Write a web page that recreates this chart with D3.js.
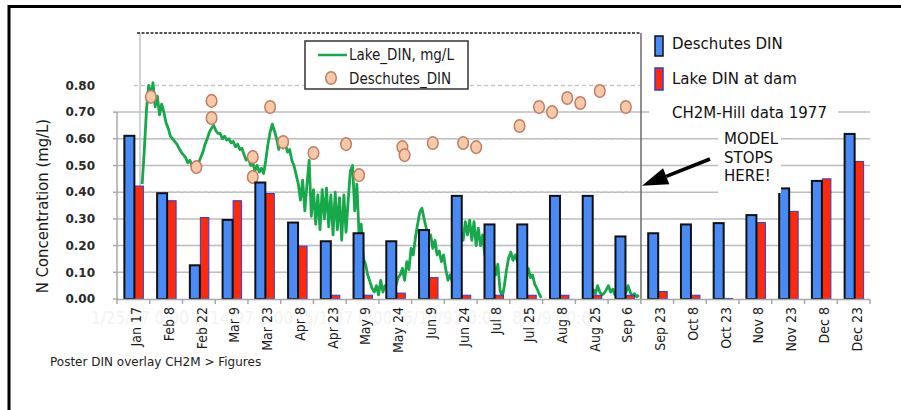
<!DOCTYPE html>
<html><head><meta charset="utf-8">
<script src="https://cdn.jsdelivr.net/npm/d3@7"></script>
<style>html,body{margin:0;padding:0;background:#fff;} svg{display:block}</style>
</head><body><svg id="c" width="901" height="410"></svg>
<script>
// ---------------- DATA ----------------
const categories = ["Jan 17","Feb 8","Feb 22","Mar 9","Mar 23","Apr 8","Apr 23","May 9","May 24","Jun 9","Jun 24","Jul 8","Jul 25","Aug 8","Aug 25","Sep 6","Sep 23","Oct 8","Oct 23","Nov 8","Nov 23","Dec 8","Dec 23"];
const deschutesDIN = [0.615,0.40,0.13,0.30,0.44,0.29,0.22,0.25,0.22,0.262,0.39,0.283,0.283,0.39,0.39,0.238,0.25,0.283,0.288,0.318,0.418,0.446,0.622];
const lakeDINatDam = [0.425,0.37,0.307,0.37,0.397,0.20,0.016,0.016,0.024,0.082,0.016,0.016,0.016,0.016,0.016,0.016,0.03,0.016,0.004,0.288,0.33,0.452,0.517];
const yTicks = [0,0.1,0.2,0.3,0.4,0.5,0.6,0.7,0.8];
const overlayGrid = [0.2,0.4,0.6,0.8];

const overlayDomain = ["1997-01-25","1997-09-13"];
const overlayDateTicks = ["1997-01-25","1997-03-14","1997-05-01","1997-06-18","1997-08-05"];

const circleDates = ["1997-01-30","1997-02-20","1997-02-27","1997-02-27","1997-03-18","1997-03-18","1997-03-26","1997-04-01","1997-04-15","1997-04-30","1997-05-06","1997-05-26","1997-05-27","1997-06-09","1997-06-23","1997-06-29","1997-07-19","1997-07-28","1997-08-03","1997-08-10","1997-08-16","1997-08-25","1997-09-06"];
const circleValues = [0.757,0.494,0.742,0.678,0.532,0.457,0.719,0.588,0.547,0.580,0.464,0.569,0.539,0.584,0.584,0.569,0.648,0.719,0.700,0.753,0.734,0.779,0.719];

const lakeLineStart = "1997-01-26";
const lakeLineValues = [
 0.43,0.56,0.71,0.80,0.76,0.81,0.72,0.76,0.69,0.73,
 0.70,0.66,0.64,0.61,0.60,0.59,0.58,0.565,0.55,0.54,
 0.53,0.51,0.52,0.50,0.50,0.495,0.51,0.53,0.55,0.58,
 0.60,0.625,0.64,0.65,0.63,0.62,0.62,0.60,0.61,0.595,
 0.60,0.585,0.59,0.57,0.58,0.56,0.565,0.54,0.52,0.53,
 0.50,0.51,0.48,0.50,0.475,0.49,0.47,0.52,0.58,0.625,
 0.655,0.63,0.60,0.56,0.60,0.565,0.58,0.55,0.56,0.52,
 0.50,0.465,0.43,0.37,0.445,0.33,0.43,0.52,0.31,0.41,
 0.28,0.39,0.26,0.41,0.30,0.415,0.27,0.39,0.24,0.40,
 0.26,0.38,0.22,0.39,0.25,0.37,0.48,0.50,0.33,0.43,
 0.24,0.28,0.15,0.13,0.09,0.065,0.04,0.026,0.05,0.015,
 0.07,0.026,0.05,0.035,0.065,0.04,0.07,0.05,0.08,0.09,
 0.115,0.07,0.14,0.11,0.19,0.165,0.23,0.28,0.325,0.34,
 0.30,0.265,0.22,0.24,0.19,0.22,0.165,0.18,0.14,0.165,
 0.11,0.07,0.09,0.065,0.11,0.165,0.22,0.25,0.22,0.29,
 0.24,0.295,0.22,0.29,0.20,0.265,0.20,0.24,0.165,0.14,
 0.155,0.115,0.14,0.09,0.13,0.035,0.005,0.05,0.11,0.155,
 0.175,0.145,0.165,0.14,0.155,0.115,0.14,0.10,0.115,0.08,
 0.09,0.055,0.04,0.02,0.004,
 null,null,null,null,null,null,null,null,null,null,null,null,null,null,null,null,null,null,null,null,null,null,
 0.01,0.035,0.02,0.05,0.026,0.015,0.022,0.035,0.05,0.026,
 0.037,0.015,0.03,0.015,0.026,0.04,0.022,0.05,0.026,0.01,
 0.02,0.008,0.015
];

// ---------------- SETUP ----------------
const svg = d3.select("#c");
const NARROW = "'Liberation Sans Narrow','Arial Narrow','DejaVu Sans Condensed',sans-serif";
const VERD = "'DejaVu Sans',Verdana,sans-serif";
const parse = d3.timeParse("%Y-%m-%d");

const x = d3.scaleBand().domain(categories).range([117, 870]).padding(0);
const y = d3.scaleLinear().domain([0, 0.8]).range([299, 85.4]);
const xo = d3.scaleTime().domain(overlayDomain.map(parse)).range([140, 641]);
const bw = x.bandwidth();

// outer frame (top and left)
svg.append("line").attr("x1",9).attr("x2",901).attr("y1",6.5).attr("y2",6.5).attr("stroke","#000").attr("stroke-width",3);
svg.append("line").attr("x1",9).attr("x2",9).attr("y1",5).attr("y2",410).attr("stroke","#000").attr("stroke-width",3);

// faint ghost date labels from overlay
const fmt = d3.timeFormat("%-m/%-d/%y %-H:%M");
svg.append("g").selectAll("text").data(overlayDateTicks).join("text")
  .attr("x", d => xo(parse(d))).attr("y", 318).attr("dy","0.35em")
  .attr("text-anchor","middle").attr("font-family",NARROW).attr("font-size",17)
  .attr("fill","#f3f3f3").text(d => fmt(parse(d)));

// bar chart gridlines
svg.append("g").selectAll("line").data(yTicks.filter(v => v > 0 && v < 0.75)).join("line")
  .attr("x1",117).attr("x2",870).attr("y1",d=>y(d)).attr("y2",d=>y(d))
  .attr("stroke","#bcbcbc").attr("stroke-width",1.5);

// overlay dashed gridlines
svg.append("g").selectAll("line").data(overlayGrid).join("line")
  .attr("x1",134).attr("x2",641).attr("y1",d=>y(d)).attr("y2",d=>y(d))
  .attr("stroke","#c6c6c6").attr("stroke-width",1.5).attr("stroke-dasharray","4,3");

// overlay frame
svg.append("line").attr("x1",140).attr("x2",140).attr("y1",33).attr("y2",299).attr("stroke","#c4c4c4").attr("stroke-width",1.5);
svg.append("line").attr("x1",137).attr("x2",641).attr("y1",33).attr("y2",33).attr("stroke","#555").attr("stroke-width",2).attr("stroke-dasharray","3,1.5");
svg.append("line").attr("x1",641).attr("x2",641).attr("y1",33).attr("y2",300).attr("stroke","#6a6a6a").attr("stroke-width",1.5);

// green lake line
const start = parse(lakeLineStart);
const linePts = lakeLineValues.map((v,i) => ({d: d3.timeDay.offset(start, i), v}));
const line = d3.line().defined(p => p.v !== null).x(p => xo(p.d)).y(p => y(p.v));
svg.append("path").datum(linePts).attr("d", line).attr("fill","none")
  .attr("stroke","#17a84b").attr("stroke-width",2.8).attr("stroke-linejoin","round");

// circles
svg.append("g").selectAll("ellipse").data(circleDates.map((d,i)=>({d:parse(d), v:circleValues[i]}))).join("ellipse")
  .attr("cx", p => xo(p.d)).attr("cy", p => y(p.v)).attr("rx",5.3).attr("ry",6.3)
  .attr("fill","#f8c9a6").attr("stroke","#c27c66").attr("stroke-width",1.5);

// bars
const gb = svg.append("g");
categories.forEach((c,i) => {
  const cx = x(c) + bw/2;
  gb.append("rect").attr("x", cx+1.5).attr("width",8.5)
    .attr("y", y(lakeDINatDam[i])+0.5).attr("height", Math.max(0, y(0)-y(lakeDINatDam[i])-0.5))
    .attr("fill","#ff2a0c").attr("stroke","#2b3fd6").attr("stroke-width",1);
});
categories.forEach((c,i) => {
  const cx = x(c) + bw/2;
  gb.append("rect").attr("x", cx-9).attr("width",10)
    .attr("y", y(deschutesDIN[i])+1).attr("height", y(0)-y(deschutesDIN[i])-1)
    .attr("fill","#4a8af5").attr("stroke","#111").attr("stroke-width",2);
});

// axes
svg.append("line").attr("x1",117).attr("x2",870).attr("y1",299.5).attr("y2",299.5).attr("stroke","#a8a8a8").attr("stroke-width",1.5);
svg.append("line").attr("x1",117).attr("x2",117).attr("y1",y(0.7)).attr("y2",300).attr("stroke","#a8a8a8").attr("stroke-width",1.5);
svg.append("g").selectAll("line").data(d3.range(categories.length+1)).join("line")
  .attr("x1", k => 117 + k*bw).attr("x2", k => 117 + k*bw).attr("y1",299.5).attr("y2",304)
  .attr("stroke","#a8a8a8").attr("stroke-width",1.5);
svg.append("g").selectAll("line").data(yTicks.filter(v=>v<0.75)).join("line")
  .attr("x1",113).attr("x2",117).attr("y1",d=>y(d)).attr("y2",d=>y(d)).attr("stroke","#a8a8a8").attr("stroke-width",1.5);

// y tick labels
svg.append("g").selectAll("text").data(yTicks).join("text")
  .attr("x",95).attr("y",d=>y(d)).attr("dy","0.35em").attr("text-anchor","end")
  .attr("font-family",VERD).attr("font-weight","bold").attr("font-size",12).attr("fill","#2a2a2a")
  .text(d => d3.format(".2f")(d));

// category labels
svg.append("g").selectAll("text").data(categories).join("text")
  .attr("transform", c => `translate(${x(c)+bw/2+3},307) rotate(-90)`)
  .attr("dy","0.35em").attr("text-anchor","end")
  .attr("font-family",NARROW).attr("font-size",14).attr("fill","#1a1a1a").text(c => c);

// y title
svg.append("text").attr("transform","translate(42,206) rotate(-90)").attr("dy","0.35em")
  .attr("text-anchor","middle").attr("font-family",NARROW).attr("font-size",16.5).attr("fill","#1a1a1a")
  .text("N Concentration (mg/L)");

// overlay legend
svg.append("rect").attr("x",305).attr("y",41).attr("width",163).attr("height",48)
  .attr("fill","#fff").attr("stroke","#333").attr("stroke-width",1.5);
svg.append("line").attr("x1",318).attr("x2",347).attr("y1",55).attr("y2",55).attr("stroke","#17a84b").attr("stroke-width",2.5);
svg.append("text").attr("x",349).attr("y",55).attr("dy","0.35em").attr("font-family",NARROW).attr("font-size",15).attr("fill","#1a1a1a").text("Lake_DIN, mg/L");
svg.append("ellipse").attr("cx",331).attr("cy",78).attr("rx",5.3).attr("ry",6.3).attr("fill","#f8c9a6").attr("stroke","#c27c66").attr("stroke-width",1.5);
svg.append("text").attr("x",349).attr("y",79).attr("dy","0.35em").attr("font-family",NARROW).attr("font-size",15).attr("fill","#1a1a1a").text("Deschutes_DIN");

// right legend
svg.append("rect").attr("x",655).attr("y",36).attr("width",8).attr("height",20).attr("fill","#4a8af5").attr("stroke","#111").attr("stroke-width",1.5);
svg.append("rect").attr("x",655).attr("y",68).attr("width",8).attr("height",22).attr("fill","#ff2a0c").attr("stroke","#2b3fd6").attr("stroke-width",1.5);
svg.append("text").attr("x",672).attr("y",44).attr("dy","0.35em").attr("font-family",VERD).attr("font-size",15).attr("fill","#111").text("Deschutes DIN");
svg.append("text").attr("x",672).attr("y",79).attr("dy","0.35em").attr("font-family",VERD).attr("font-size",15).attr("fill","#111").text("Lake DIN at dam");

// CH2M annotation
svg.append("rect").attr("x",649).attr("y",101).attr("width",189).attr("height",24).attr("fill","#fff");
svg.append("text").attr("x",672).attr("y",113).attr("dy","0.35em").attr("font-family",VERD).attr("font-size",15).attr("fill","#111").text("CH2M-Hill data 1977");

// model stops annotation
svg.append("rect").attr("x",718).attr("y",128).attr("width",63).attr("height",65).attr("fill","#fff");
["MODEL","STOPS","HERE!"].forEach((t,i) => {
  svg.append("text").attr("x",724).attr("y",139 + i*18.5).attr("dy","0.35em").attr("font-family",VERD).attr("font-size",15).attr("fill","#111").text(t);
});
// arrow
const tip = [xo.range()[1]+1, y(0.424)];
const tail = [710, 159];
const dx = tail[0]-tip[0], dy = tail[1]-tip[1], L = Math.hypot(dx,dy);
const ux = dx/L, uy = dy/L, hl = 26, hw = 8.5;
const bx = tip[0]+ux*hl, by = tip[1]+uy*hl;
svg.append("line").attr("x1",tail[0]).attr("y1",tail[1]).attr("x2",bx).attr("y2",by).attr("stroke","#000").attr("stroke-width",3.5);
svg.append("path").attr("d", `M${tip[0]},${tip[1]} L${bx - uy*hw},${by + ux*hw} L${bx + uy*hw},${by - ux*hw} Z`).attr("fill","#000");

// footer
svg.append("text").attr("x",50).attr("y",362).attr("dy","0.35em").attr("font-family",VERD).attr("font-size",12).attr("fill","#222").text("Poster DIN overlay CH2M > Figures");
</script>
</body></html>
